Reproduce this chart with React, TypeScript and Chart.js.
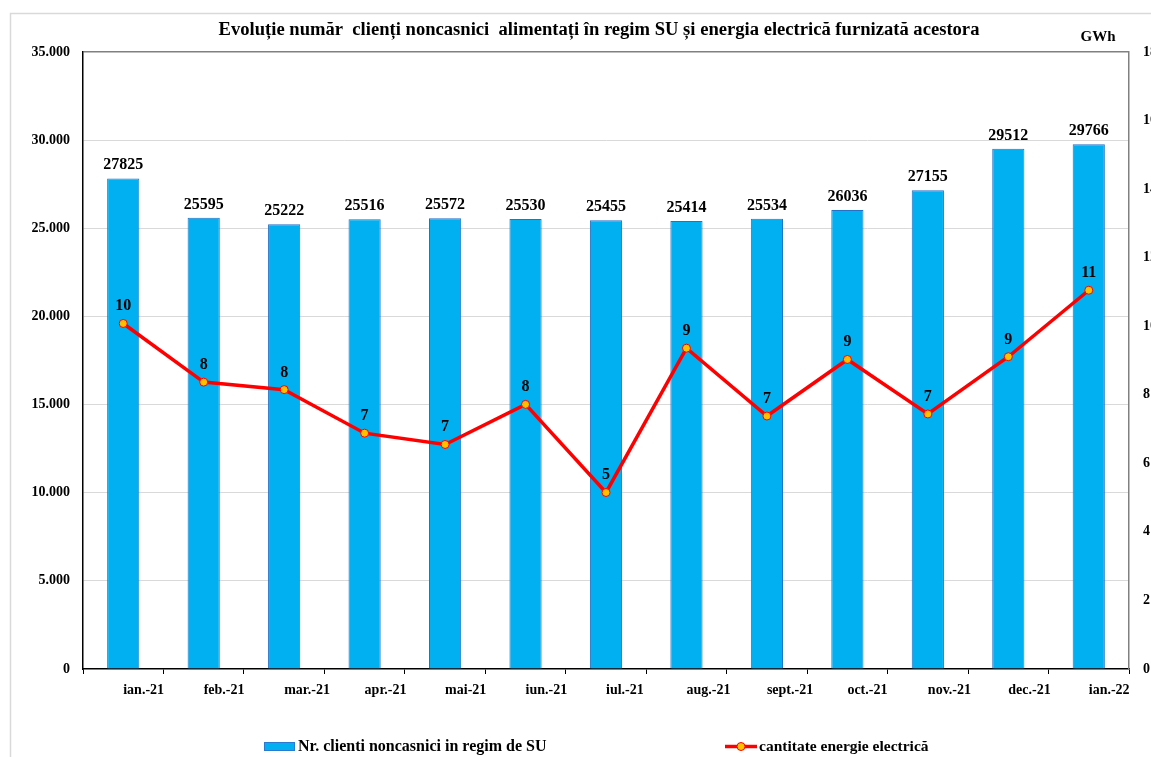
import React, { useEffect, useRef } from 'react';
import { Chart, registerables } from 'chart.js';

Chart.register(...registerables);

const categories = ['ian.-21', 'feb.-21', 'mar.-21', 'apr.-21', 'mai-21', 'iun.-21', 'iul.-21', 'aug.-21', 'sept.-21', 'oct.-21', 'nov.-21', 'dec.-21', 'ian.-22'];
const clientCounts = [27825, 25595, 25222, 25516, 25572, 25530, 25455, 25414, 25534, 26036, 27155, 29512, 29766];
const energyGWh = [10.08, 8.37, 8.15, 6.88, 6.55, 7.72, 5.15, 9.36, 7.38, 9.03, 7.44, 9.11, 11.05];

const titleText = 'Evoluție număr  clienți noncasnici  alimentați în regim SU și energia electrică furnizată acestora';
const unitText = 'GWh';
const barLegend = 'Nr. clienti noncasnici in regim de SU';
const lineLegend = 'cantitate energie electrică';

const W = 1180;
const H = 757;
const SERIF = "'Liberation Serif', 'Times New Roman', serif";

const fmt = (v: number) => String(v).replace(/\B(?=(\d{3})+(?!\d))/g, '.');

const drawPlugin = {
  id: 'customDraw',
  beforeDraw(chart: any) {
    const ctx = chart.ctx;
    ctx.save();
    ctx.fillStyle = '#ffffff';
    ctx.fillRect(0, 0, chart.width, chart.height);
    ctx.strokeStyle = '#d9d9d9';
    ctx.lineWidth = 1.5;
    ctx.strokeRect(10.5, 13.5, chart.width + 20, chart.height + 20);
    ctx.restore();
  },
  afterDatasetsDraw(chart: any) {
    const ctx = chart.ctx;
    ctx.save();
    ctx.fillStyle = '#000';
    ctx.textAlign = 'center';
    ctx.textBaseline = 'alphabetic';
    const barMeta = chart.getDatasetMeta(0);
    ctx.font = `bold 16px ${SERIF}`;
    barMeta.data.forEach((el: any, i: number) => {
      ctx.fillText(String(clientCounts[i]), el.x, el.y - 9);
    });
    const lineMeta = chart.getDatasetMeta(1);
    ctx.font = `bold 16px ${SERIF}`;
    lineMeta.data.forEach((el: any, i: number) => {
      ctx.fillText(String(Math.round(energyGWh[i])), el.x, el.y - 13);
    });
    ctx.restore();
  },
  afterDraw(chart: any) {
    const ctx = chart.ctx;
    ctx.save();
    ctx.fillStyle = '#000';
    ctx.textBaseline = 'middle';
    ctx.textAlign = 'center';
    ctx.font = `bold 18.6px ${SERIF}`;
    ctx.fillText(titleText, 599, 30);
    ctx.font = `bold 15px ${SERIF}`;
    ctx.fillText(unitText, 1098, 37);

    // legend
    ctx.textAlign = 'left';
    ctx.font = `bold 16px ${SERIF}`;
    ctx.fillStyle = '#00B0F0';
    ctx.fillRect(264, 742, 31, 9);
    ctx.strokeStyle = '#2a7bd0';
    ctx.lineWidth = 1;
    ctx.strokeRect(264.5, 742.5, 30, 8);
    ctx.fillStyle = '#000';
    ctx.fillText(barLegend, 298, 747);

    ctx.strokeStyle = '#FF0000';
    ctx.lineWidth = 3.5;
    ctx.beginPath();
    ctx.moveTo(725, 746.5);
    ctx.lineTo(757, 746.5);
    ctx.stroke();
    ctx.beginPath();
    ctx.arc(741, 746.5, 4, 0, Math.PI * 2);
    ctx.fillStyle = '#FFC000';
    ctx.fill();
    ctx.lineWidth = 1;
    ctx.stroke();
    ctx.fillStyle = '#000';
    ctx.font = `bold 15.5px ${SERIF}`;
    ctx.fillText(lineLegend, 759, 747);
    ctx.restore();
  },
};

export default function App() {
  const ref = useRef<HTMLCanvasElement | null>(null);
  useEffect(() => {
    if (!ref.current) return;
    const font = { family: SERIF, weight: 'bold' as const, size: 14 };
    const chart = new Chart(ref.current, {
      type: 'bar',
      data: {
        labels: categories,
        datasets: [
          {
            type: 'bar',
            label: barLegend,
            data: clientCounts,
            backgroundColor: '#00B0F0',
            borderColor: '#2272c8',
            borderWidth: 1,
            barPercentage: 0.4,
            categoryPercentage: 1,
            yAxisID: 'y',
            order: 1,
          },
          {
            type: 'line',
            label: lineLegend,
            data: energyGWh,
            borderColor: '#FF0000',
            borderWidth: 3.5,
            pointRadius: 4,
            pointBackgroundColor: '#FFC000',
            pointBorderColor: '#FF0000',
            pointBorderWidth: 1,
            tension: 0,
            yAxisID: 'y1',
            order: 0,
          },
        ],
      } as any,
      options: {
        responsive: false,
        animation: false,
        layout: { padding: { top: 52, left: 0, right: 0, bottom: 0 } },
        plugins: {
          legend: { display: false },
          title: { display: false },
          tooltip: { enabled: false },
        },
        scales: {
          x: {
            offset: true,
            grid: {
              offset: true,
              drawOnChartArea: false,
              drawTicks: true,
              tickLength: 5,
              color: '#000',
            },
            border: { color: '#000', width: 1.5 },
            ticks: { font, color: '#000', padding: 8, maxRotation: 0, autoSkip: false, align: 'start' },
            afterFit: (s: any) => {
              s.height = 88;
            },
          },
          y: {
            position: 'left',
            min: 0,
            max: 35000,
            ticks: {
              stepSize: 5000,
              font,
              color: '#000',
              padding: 13,
              callback: (v: any) => fmt(Number(v)),
            },
            grid: {
              drawTicks: false,
              color: (c: any) =>
                c.tick && c.tick.value === 35000
                  ? '#808080'
                  : c.tick && c.tick.value === 0
                  ? 'rgba(0,0,0,0)'
                  : '#d9d9d9',
              lineWidth: (c: any) => (c.tick && c.tick.value === 35000 ? 1.5 : 1),
            },
            border: { color: '#000', width: 1.5 },
            afterFit: (s: any) => {
              s.width = 83;
            },
          },
          y1: {
            position: 'right',
            min: 0,
            max: 18,
            ticks: { stepSize: 2, font, color: '#000', padding: 14 },
            grid: { drawOnChartArea: false, drawTicks: false },
            border: { color: '#808080', width: 1.5 },
            afterFit: (s: any) => {
              s.width = W - 1129;
            },
          },
        },
      } as any,
      plugins: [drawPlugin],
    });
    return () => chart.destroy();
  }, []);
  return (
    <div style={{ position: 'absolute', left: 0, top: 0, width: 1151, height: 757, overflow: 'hidden', background: '#fff' }}>
      <canvas ref={ref} width={W} height={H} style={{ display: 'block', width: W, height: H }} />
    </div>
  );
}
